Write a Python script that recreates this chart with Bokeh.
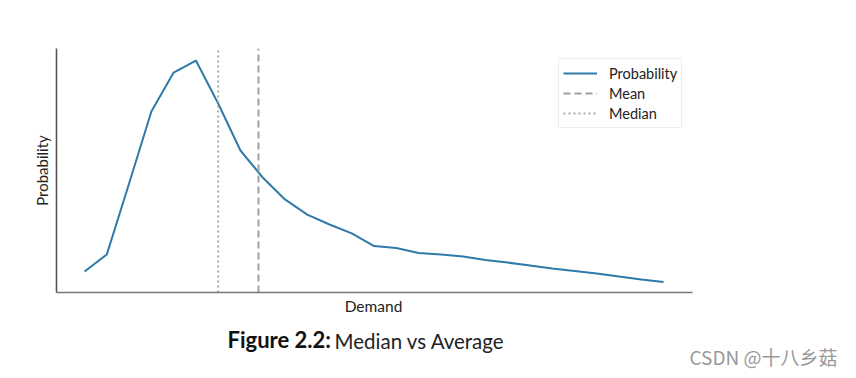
from bokeh.plotting import figure
from bokeh.layouts import column
from bokeh.models import FixedTicker, Label, Range1d, Legend, LegendItem
from bokeh.embed import file_html
from bokeh.resources import INLINE

demand = list(range(1, 28))
probability = [0.0108, 0.0196, 0.0561, 0.0932, 0.1132, 0.1194, 0.0973, 0.0731, 0.0592,
               0.0479, 0.0401, 0.0350, 0.0304, 0.0239, 0.0229, 0.0203, 0.0196, 0.0185,
               0.0167, 0.0154, 0.0139, 0.0124, 0.0111, 0.0098, 0.0082, 0.0067, 0.0054]
mean_demand = 8.81
median_demand = 7.0
series_names = ["Probability", "Mean", "Median"]
x_title = "Demand"
y_title = "Probability"
caption_bold = "Figure 2.2:"
caption_rest = "Median vs Average"
watermark = "CSDN @十八乡菇"

FONT = "Lato"
W = 850
LEFT = 56
AXIS_RIGHT = 692          # where the visible x axis ends (px)
x_start, x_vis_end = -0.26, 28.3
# the frame runs to the right edge so the watermark below is not clipped
x_end = x_start + (x_vis_end - x_start) * (W - LEFT) / (AXIS_RIGHT - LEFT)
y0, y1 = 0.0, 0.1256

p = figure(width=W, height=296, output_backend="svg", toolbar_location=None,
           x_range=Range1d(x_start, x_end), y_range=Range1d(y0, y1),
           min_border_left=LEFT, min_border_right=0, min_border_top=48, min_border_bottom=4)
p.outline_line_color = None
p.xgrid.visible = False
p.ygrid.visible = False
p.background_fill_color = "white"
p.border_fill_color = "white"

for ax in (p.xaxis[0], p.yaxis[0]):
    ax.ticker = FixedTicker(ticks=[])
    ax.major_tick_out = 0
    ax.major_tick_in = 0
    ax.minor_tick_out = 0
    ax.minor_tick_in = 0
    ax.major_label_standoff = 0
    ax.axis_label_text_font = FONT
    ax.axis_label_text_font_style = "normal"
    ax.axis_label_text_font_size = "15px"
    ax.axis_label_text_color = "#222222"
    ax.axis_line_width = 1.6

p.xaxis.bounds = (x_start, x_vis_end)
p.yaxis.axis_label = y_title
p.xaxis.axis_line_color = "#777777"
p.yaxis.axis_line_color = "#555555"
p.yaxis.axis_label_standoff = 6

r_prob = p.line(demand, probability, line_color="#2f7aa9", line_width=2)
r_mean = p.line([mean_demand, mean_demand], [y0, y1], line_color="#a0a0a0", line_width=2,
                line_dash="7 4")
r_med = p.line([median_demand, median_demand], [y0, y1], line_color="#a8a8a8", line_width=2,
               line_dash="2 3")

legend = Legend(items=[LegendItem(label=series_names[0], renderers=[r_prob]),
                       LegendItem(label=series_names[1], renderers=[r_mean]),
                       LegendItem(label=series_names[2], renderers=[r_med])],
                location=(502, 164))
legend.margin = 0
legend.padding = 4
legend.spacing = 0
legend.label_text_font = FONT
legend.label_text_font_size = "14.5px"
legend.label_text_color = "#222222"
legend.border_line_color = "#dddddd"
legend.border_line_width = 1
legend.glyph_width = 34
legend.glyph_height = 20
legend.label_height = 20
legend.label_standoff = 12
p.add_layout(legend, "center")

# strip below the chart: x-axis title, caption and watermark
cap = figure(width=W, height=76, output_backend="svg", toolbar_location=None,
             x_axis_location=None, y_axis_location=None,
             x_range=Range1d(0, W), y_range=Range1d(0, 76),
             min_border_left=0, min_border_right=0, min_border_top=0, min_border_bottom=0)
cap.outline_line_color = None
cap.xgrid.visible = False
cap.ygrid.visible = False
cap.border_fill_color = "white"

cap.add_layout(Label(x=317, y=58, x_units="screen", y_units="screen", text=x_title,
                     text_align="center", text_font=FONT, text_font_size="15.5px",
                     text_color="#222222"))
cap.add_layout(Label(x=171, y=20, x_units="screen", y_units="screen", text=caption_bold,
                     text_font=FONT, text_font_style="bold", text_font_size="22px",
                     text_color="#111111"))
cap.add_layout(Label(x=278, y=20, x_units="screen", y_units="screen", text=caption_rest,
                     text_font=FONT, text_font_size="20.5px", text_color="#222222"))
cap.add_layout(Label(x=633, y=3, x_units="screen", y_units="screen", text=watermark,
                     text_font="Noto Sans CJK SC", text_font_size="19px", text_color="#999999"))

layout = column(p, cap, spacing=0)
open("out.html", "w").write(file_html(layout, INLINE))
